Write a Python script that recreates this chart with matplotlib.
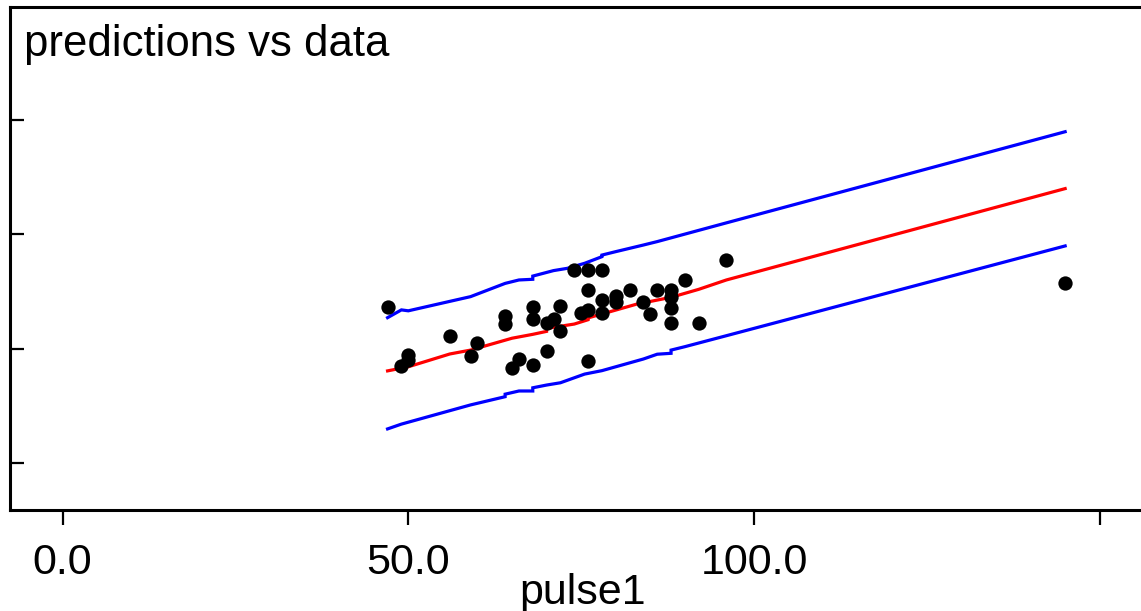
import matplotlib
matplotlib.use("Agg")
import matplotlib.pyplot as plt

# ---- data ----
pulse1 = [47, 50, 50, 49, 56, 60, 59, 64, 64, 68, 68, 66, 65, 68, 70, 70, 71,
          72, 72, 74, 76, 78, 76, 76, 75, 78, 78, 80, 80, 82, 84, 85, 86, 88,
          88, 88, 88, 90, 92, 96, 145, 76]
response = [118.3, 97.2, 95.0, 92.3, 105.5, 102.6, 96.7, 114.2, 110.9, 118.3,
            112.9, 95.3, 91.5, 92.8, 99.1, 111.0, 112.8, 118.4, 107.7, 134.4,
            134.4, 134.4, 125.5, 116.9, 115.5, 121.2, 115.4, 122.8, 120.5,
            125.5, 120.5, 115.1, 125.6, 125.6, 122.7, 117.9, 111.0, 130.0,
            111.0, 138.9, 128.7, 94.7]

pred_x = [47, 50, 56, 59, 65, 68, 70, 70, 74, 76, 76, 78, 83, 86, 88, 92, 96, 145]
pred_mid = [90.2, 92.0, 97.6, 99.3, 104.5, 106.2, 107.5, 108.8, 110.7, 112.6,
            113.4, 115.1, 119.4, 121.2, 122.4, 125.9, 130.0, 170.0]

upper_x = [47, 49, 50, 59, 64, 66, 68, 68, 71, 73, 75.5, 78, 78, 80, 84, 86, 96, 145]
upper_y = [113.5, 116.9, 116.5, 122.7, 128.5, 130.0, 130.3, 131.7, 134.1,
           135.1, 137.3, 140.2, 140.9, 142.4, 145.3, 146.8, 155.0, 194.9]

lower_x = [47, 49, 59, 64, 64, 66, 68, 68, 70, 72, 75.5, 78, 84, 86, 88, 88, 90, 96, 145]
lower_y = [64.8, 66.9, 75.3, 78.9, 80.0, 81.4, 81.4, 82.8, 84.0, 85.0, 88.8,
           90.3, 95.4, 97.5, 97.9, 99.3, 100.8, 105.6, 144.9]

xticks = [0, 50, 100, 150]
xticklabels = ["0.0", "50.0", "100.0", ""]
yticks = [50, 100, 150, 200]

FONT = "Liberation Sans"

fig = plt.figure(figsize=(11.41, 6.11), dpi=100)
W, H = 1141, 611
ax = fig.add_axes([10 / W, (H - 510) / H, (W - 10) / W, (510 - 7) / H])

ax.plot(pred_x, pred_mid, color="#ff0000", lw=2.3, solid_joinstyle="miter", zorder=3)
ax.plot(upper_x, upper_y, color="#0000ff", lw=2.3, solid_joinstyle="miter", zorder=3)
ax.plot(lower_x, lower_y, color="#0000ff", lw=2.3, solid_joinstyle="miter", zorder=3)
ax.plot(pulse1, response, "o", color="black", ms=10.3, mew=0, zorder=4)

ax.set_xlim(-7.61, 155.97)
ax.set_ylim(29.3, 249.5)

for s in ["left", "bottom", "top"]:
    ax.spines[s].set_linewidth(2.2)
ax.spines["right"].set_visible(False)

ax.set_xticks(xticks)
ax.set_xticklabels(xticklabels, fontname=FONT, fontsize=31)
ax.set_yticks(yticks)
ax.set_yticklabels([])
ax.tick_params(axis="x", direction="out", length=10.8, width=1.6, pad=13)
ax.tick_params(axis="y", direction="in", length=10, width=1.6)

fig.text(24 / W, (H - 56) / H, "predictions vs data", fontname=FONT,
         fontsize=31.5, ha="left", va="baseline")
fig.text(583 / W, (H - 604) / H, "pulse1", fontname=FONT, fontsize=31,
         ha="center", va="baseline")

fig.savefig("out.png", dpi=100)
